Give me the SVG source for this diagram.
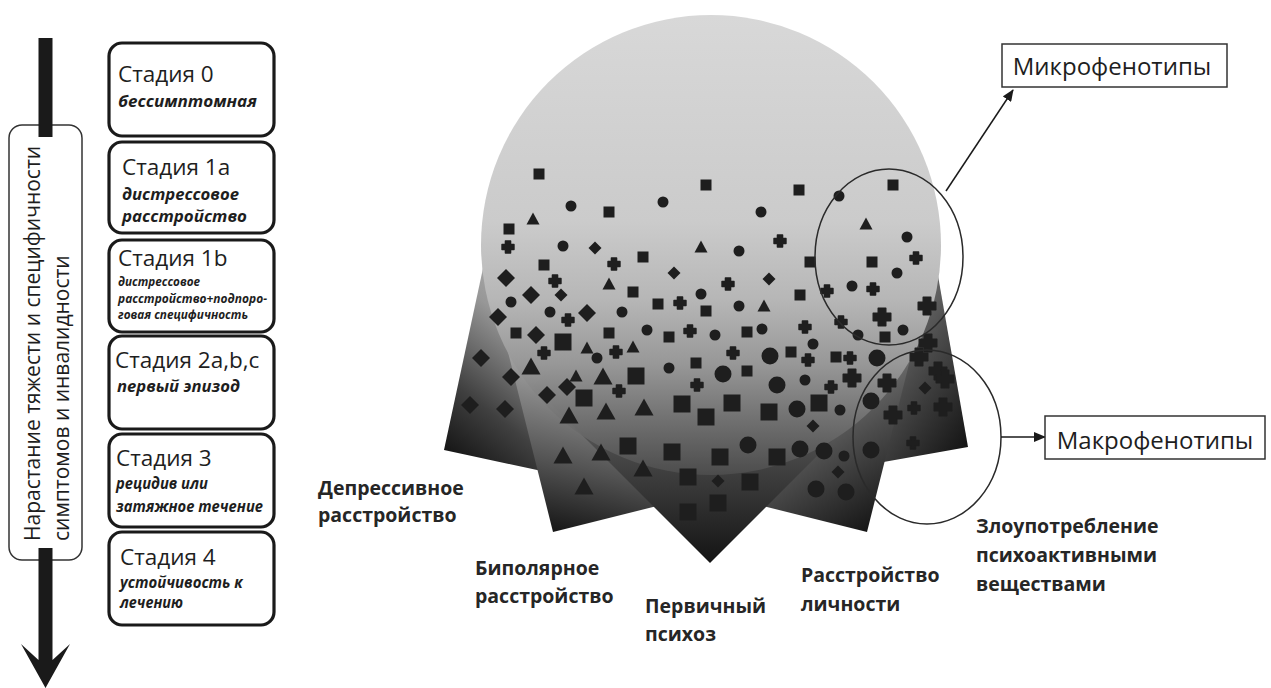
<svg xmlns="http://www.w3.org/2000/svg" width="1271" height="688" viewBox="0 0 1271 688">
<defs>
<style>
.stage{fill:#fff;stroke:#1a1a1a;stroke-width:3.2}
.st{font-family:"Open Sans","Noto Sans",sans-serif;font-size:22.5px;fill:#1e1e1e}
.sub{font-family:"Open Sans","Noto Sans",sans-serif;font-size:16px;font-weight:700;font-style:italic;fill:#1e1e1e}
.sub2{font-family:"Open Sans","Noto Sans",sans-serif;font-size:11.5px;font-weight:700;font-style:italic;fill:#1e1e1e}
.vt{font-family:"Open Sans","Noto Sans",sans-serif;font-size:21px;fill:#1e1e1e}
.lbl{font-family:"Open Sans","Noto Sans",sans-serif;font-size:19.5px;font-weight:700;fill:#262626}
.ph{font-family:"Open Sans","Noto Sans",sans-serif;font-size:24px;fill:#1e1e1e}
.ring{fill:none;stroke:#2a2a2a;stroke-width:1.5}
.box{fill:#fff;stroke:#333;stroke-width:1.5}
.con{stroke:#1a1a1a;stroke-width:1.5;fill:none}
</style>
<linearGradient id="gDep" gradientUnits="userSpaceOnUse" x1="444" y1="450" x2="590" y2="267">
<stop offset="0" stop-color="#161616"/><stop offset="0.25" stop-color="#404040"/><stop offset="0.6" stop-color="#979797"/><stop offset="1" stop-color="#c4c4c4"/></linearGradient>
<linearGradient id="gBip" gradientUnits="userSpaceOnUse" x1="553" y1="532" x2="601" y2="314">
<stop offset="0" stop-color="#161616"/><stop offset="0.3" stop-color="#525252"/><stop offset="0.7" stop-color="#9c9c9c"/><stop offset="1" stop-color="#c4c4c4"/></linearGradient>
<linearGradient id="gPsy" gradientUnits="userSpaceOnUse" x1="710" y1="563" x2="710" y2="209">
<stop offset="0" stop-color="#141414"/><stop offset="0.3" stop-color="#464646"/><stop offset="0.65" stop-color="#969696"/><stop offset="1" stop-color="#c4c4c4"/></linearGradient>
<linearGradient id="gPer" gradientUnits="userSpaceOnUse" x1="867" y1="532" x2="721" y2="290">
<stop offset="0" stop-color="#161616"/><stop offset="0.3" stop-color="#4c4c4c"/><stop offset="0.7" stop-color="#9c9c9c"/><stop offset="1" stop-color="#c4c4c4"/></linearGradient>
<linearGradient id="gSub" gradientUnits="userSpaceOnUse" x1="968" y1="447" x2="737" y2="285">
<stop offset="0" stop-color="#141414"/><stop offset="0.3" stop-color="#4a4a4a"/><stop offset="0.7" stop-color="#9c9c9c"/><stop offset="1" stop-color="#c4c4c4"/></linearGradient>
<linearGradient id="gCir" gradientUnits="userSpaceOnUse" x1="0" y1="15" x2="0" y2="475">
<stop offset="0" stop-color="#d8d8d8"/><stop offset="0.45" stop-color="#cbcbcb"/><stop offset="0.62" stop-color="#b6b6b6"/><stop offset="0.76" stop-color="#979797"/><stop offset="0.88" stop-color="#727272" stop-opacity="0.92"/><stop offset="1" stop-color="#505050" stop-opacity="0.8"/></linearGradient>
<marker id="ah" viewBox="0 0 12 10" refX="11" refY="5" markerWidth="12" markerHeight="10" markerUnits="userSpaceOnUse" orient="auto"><path d="M0,0 L12,5 L0,10 z" fill="#1a1a1a"/></marker>
<rect id="q" x="-5.5" y="-5.5" width="11" height="11"/>
<rect id="Q" x="-8.5" y="-8.5" width="17" height="17"/>
<circle id="o" r="5.5"/>
<circle id="O" r="8.5"/>
<path id="t" d="M0,-6.5 L6.5,5.5 L-6.5,5.5Z"/>
<path id="T" d="M0,-9.5 L9.5,7.5 L-9.5,7.5Z"/>
<path id="d" d="M0,-6.5 L6.5,0 L0,6.5 L-6.5,0Z"/>
<path id="D" d="M0,-9 L9,0 L0,9 L-9,0Z"/>
<path id="c" d="M-2.6,-6 h5.2 v3.4 h3.4 v5.2 h-3.4 v3.4 h-5.2 v-3.4 h-3.4 v-5.2 h3.4z" stroke="#1e1e1e" stroke-width="1.4" stroke-linejoin="round"/>
<path id="C" d="M-3.8,-8.8 h7.6 v5 h5 v7.6 h-5 v5 h-7.6 v-5 h-5 v-7.6 h5z" stroke="#1e1e1e" stroke-width="1.4" stroke-linejoin="round"/>
</defs>
<rect width="1271" height="688" fill="#fff"/>

<g id="axis">
<rect x="9" y="125" width="73" height="435" rx="13" fill="#fff" stroke="#333" stroke-width="1.5"/>
<text class="vt" transform="translate(40,541) rotate(-90)">Нарастание тяжести и специфичности</text>
<text class="vt" transform="translate(69,541) rotate(-90)">симптомов и инвалидности</text>
<rect x="38.5" y="38" width="14" height="99" fill="#1a1a1a"/>
<path d="M38.5,548 H52.5 V660 L70,644 L45.5,688 L21,644 L38.5,660 Z" fill="#1a1a1a"/>
</g>

<g id="stage0"><rect class="stage" x="109" y="43" width="165" height="93" rx="13"/>
<text class="st" x="118" y="82">Стадия 0</text><text class="sub" x="118" y="107" textLength="139" lengthAdjust="spacingAndGlyphs">бессимптомная</text></g>
<g id="stage1a"><rect class="stage" x="109" y="142" width="165" height="91" rx="13"/>
<text class="st" x="122" y="175">Стадия 1а</text><text class="sub" x="122" y="200" textLength="117" lengthAdjust="spacingAndGlyphs">дистрессовое</text><text class="sub" x="122" y="222" textLength="125" lengthAdjust="spacingAndGlyphs">расстройство</text></g>
<g id="stage1b"><rect class="stage" x="109" y="240" width="165" height="92" rx="13"/>
<text class="st" x="118" y="266">Стадия 1b</text><text class="sub2" x="118" y="286" textLength="82" lengthAdjust="spacingAndGlyphs">дистрессовое</text><text class="sub2" x="118" y="303" textLength="149" lengthAdjust="spacingAndGlyphs">расстройство+подпоро-</text><text class="sub2" x="118" y="319" textLength="130" lengthAdjust="spacingAndGlyphs">говая специфичность</text></g>
<g id="stage2"><rect class="stage" x="109" y="336" width="165" height="93" rx="13"/>
<text class="st" x="115" y="368">Стадия 2a,b,c</text><text class="sub" x="117" y="392" textLength="123" lengthAdjust="spacingAndGlyphs">первый эпизод</text></g>
<g id="stage3"><rect class="stage" x="109" y="434" width="165" height="93" rx="13"/>
<text class="st" x="116" y="466">Стадия 3</text><text class="sub" x="116" y="489" textLength="92" lengthAdjust="spacingAndGlyphs">рецидив или</text><text class="sub" x="116" y="512" textLength="147" lengthAdjust="spacingAndGlyphs">затяжное течение</text></g>
<g id="stage4"><rect class="stage" x="109" y="532" width="165" height="93" rx="13"/>
<text class="st" x="120" y="565">Стадия 4</text><text class="sub" x="120" y="588" textLength="123" lengthAdjust="spacingAndGlyphs">устойчивость к</text><text class="sub" x="120" y="608" textLength="63" lengthAdjust="spacingAndGlyphs">лечению</text></g>

<g id="fan">
<polygon points="444,450 488,245 693,289 649,494" fill="url(#gDep)"/>
<polygon points="968,447 771,482 736.5,285 933.5,250" fill="url(#gSub)"/>
<polygon points="553,532 747,483.5 698.5,289.5 504.5,338" fill="url(#gBip)"/>
<polygon points="867,532 673,483.5 721.5,289.5 915.5,338" fill="url(#gPer)"/>
<polygon points="710,563 887,386 710,209 533,386" fill="url(#gPsy)"/>
<circle cx="711" cy="245" r="230" fill="url(#gCir)"/>
</g>

<g id="markers" fill="#1e1e1e">
<use href="#q" x="539" y="174"/><use href="#q" x="706" y="185"/><use href="#q" x="799" y="190"/><use href="#o" x="839" y="196"/><use href="#q" x="893" y="185"/>
<use href="#o" x="571" y="206"/><use href="#o" x="663" y="202"/><use href="#q" x="609" y="212"/><use href="#o" x="761" y="212"/><use href="#t" x="533" y="219"/>
<use href="#t" x="866" y="224"/><use href="#q" x="509" y="229"/><use href="#o" x="907" y="237"/><use href="#c" x="508" y="247"/><use href="#o" x="563" y="246"/>
<use href="#d" x="595" y="248"/><use href="#t" x="701" y="247"/><use href="#o" x="739" y="251"/><use href="#c" x="780" y="241"/><use href="#q" x="810" y="262"/>
<use href="#q" x="643" y="257"/><use href="#q" x="544" y="265"/><use href="#c" x="614" y="264"/><use href="#c" x="916" y="258"/><use href="#q" x="872" y="262"/>
<use href="#d" x="674" y="273"/><use href="#d" x="769" y="279"/><use href="#D" x="506" y="278"/><use href="#c" x="555" y="281"/><use href="#c" x="728" y="284"/>
<use href="#t" x="609" y="284"/><use href="#c" x="827" y="291"/><use href="#o" x="897" y="273"/><use href="#o" x="852" y="286"/><use href="#c" x="873" y="289"/>
<use href="#D" x="531" y="295"/><use href="#d" x="561" y="295"/><use href="#q" x="633" y="292"/><use href="#q" x="800" y="295"/><use href="#o" x="701" y="294"/>
<use href="#o" x="511" y="302"/><use href="#c" x="680" y="303"/><use href="#q" x="658" y="304"/><use href="#o" x="739" y="306"/><use href="#t" x="764" y="306"/>
<use href="#D" x="587" y="313"/><use href="#o" x="550" y="312"/><use href="#o" x="622" y="312"/><use href="#c" x="568" y="320"/><use href="#q" x="706" y="311"/>
<use href="#D" x="498" y="317"/><use href="#c" x="805" y="327"/><use href="#c" x="841" y="322"/><use href="#C" x="882" y="317"/><use href="#C" x="927" y="306"/>
<use href="#o" x="647" y="330"/><use href="#c" x="690" y="331"/><use href="#o" x="715" y="335"/><use href="#q" x="747" y="332"/><use href="#o" x="762" y="329"/>
<use href="#q" x="516" y="333"/><use href="#D" x="536" y="335"/><use href="#Q" x="563" y="342"/><use href="#q" x="609" y="333"/><use href="#q" x="669" y="337"/>
<use href="#o" x="858" y="335"/><use href="#q" x="885" y="337"/><use href="#o" x="903" y="330"/><use href="#o" x="813" y="344"/><use href="#C" x="928" y="343"/>
<use href="#c" x="544" y="353"/><use href="#t" x="587" y="348"/><use href="#c" x="616" y="352"/><use href="#t" x="633" y="347"/><use href="#o" x="597" y="358"/>
<use href="#D" x="481" y="358"/><use href="#O" x="770" y="356"/><use href="#q" x="791" y="352"/><use href="#c" x="733" y="353"/><use href="#c" x="808" y="360"/>
<use href="#q" x="836" y="357"/><use href="#c" x="850" y="358"/><use href="#O" x="877" y="358"/><use href="#C" x="919" y="357"/><use href="#T" x="531" y="367"/>
<use href="#q" x="696" y="363"/><use href="#o" x="669" y="368"/><use href="#O" x="723" y="374"/><use href="#q" x="747" y="371"/><use href="#o" x="805" y="380"/>
<use href="#C" x="852" y="378"/><use href="#C" x="938" y="371"/><use href="#C" x="945" y="379"/><use href="#D" x="511" y="377"/><use href="#t" x="576" y="376"/>
<use href="#T" x="603" y="377"/><use href="#Q" x="636" y="376"/><use href="#O" x="777" y="385"/><use href="#c" x="831" y="387"/><use href="#C" x="887" y="383"/>
<use href="#d" x="925" y="388"/><use href="#c" x="697" y="385"/><use href="#D" x="567" y="387"/><use href="#c" x="619" y="391"/><use href="#D" x="547" y="395"/>
<use href="#Q" x="584" y="398"/><use href="#Q" x="682" y="404"/><use href="#Q" x="732" y="403"/><use href="#Q" x="769" y="412"/><use href="#O" x="797" y="409"/>
<use href="#Q" x="819" y="403"/><use href="#o" x="840" y="410"/><use href="#O" x="871" y="401"/><use href="#C" x="893" y="415"/><use href="#c" x="914" y="408"/>
<use href="#C" x="943" y="407"/><use href="#Q" x="706" y="417"/><use href="#d" x="813" y="426"/><use href="#T" x="606" y="412"/><use href="#T" x="644" y="408"/>
<use href="#T" x="569" y="416"/><use href="#D" x="470" y="405"/><use href="#D" x="505" y="409"/><use href="#Q" x="628" y="446"/><use href="#Q" x="672" y="452"/>
<use href="#Q" x="720" y="457"/><use href="#O" x="748" y="445"/><use href="#Q" x="777" y="457"/><use href="#O" x="800" y="449"/><use href="#O" x="824" y="451"/>
<use href="#o" x="844" y="456"/><use href="#O" x="871" y="450"/><use href="#c" x="913" y="443"/><use href="#T" x="563" y="456"/><use href="#T" x="601" y="453"/>
<use href="#T" x="643" y="469"/><use href="#T" x="584" y="487"/><use href="#Q" x="688" y="477"/><use href="#d" x="718" y="481"/><use href="#Q" x="750" y="482"/>
<use href="#d" x="838" y="472"/><use href="#O" x="816" y="489"/><use href="#O" x="846" y="492"/><use href="#Q" x="718" y="503"/><use href="#Q" x="688" y="512"/>
</g>

<g id="microRing"><ellipse class="ring" cx="889" cy="257" rx="74" ry="88"/></g>
<g id="macroRing"><ellipse class="ring" cx="927" cy="437" rx="74" ry="87"/></g>

<g id="connectors">
<line class="con" x1="946" y1="191" x2="1013" y2="90" marker-end="url(#ah)"/>
<line class="con" x1="1001" y1="437" x2="1045" y2="437" marker-end="url(#ah)"/>
</g>

<g id="micro"><rect class="box" x="1002" y="44" width="225" height="43"/><text class="ph" x="1112" y="75" text-anchor="middle">Микрофенотипы</text></g>
<g id="macro"><rect class="box" x="1045" y="416" width="220" height="43"/><text class="ph" x="1155" y="449" text-anchor="middle">Макрофенотипы</text></g>

<g id="labels">
<text class="lbl" x="318" y="495">Депрессивное</text><text class="lbl" x="318" y="522">расстройство</text>
<text class="lbl" x="475" y="575">Биполярное</text><text class="lbl" x="475" y="603">расстройство</text>
<text class="lbl" x="645" y="613">Первичный</text><text class="lbl" x="645" y="641">психоз</text>
<text class="lbl" x="801" y="582">Расстройство</text><text class="lbl" x="801" y="611">личности</text>
<text class="lbl" x="976" y="533">Злоупотребление</text><text class="lbl" x="976" y="562">психоактивными</text><text class="lbl" x="976" y="591">веществами</text>
</g>
</svg>
